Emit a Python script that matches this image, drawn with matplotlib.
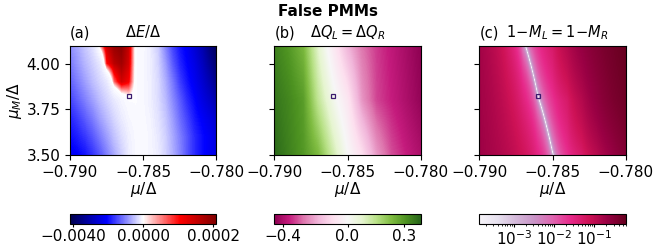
import numpy as np
import matplotlib
matplotlib.use("Agg")
import matplotlib.pyplot as plt
from matplotlib.colors import TwoSlopeNorm, LogNorm, Normalize, ListedColormap
from matplotlib.cm import ScalarMappable
from matplotlib.ticker import FuncFormatter

plt.rcParams['font.size'] = 11

# ---------------- data ----------------
# panel (a): Delta E / Delta, grid values in units of 1e-4
mu_a = [-0.7900, -0.7895, -0.7890, -0.7885, -0.7880, -0.7875, -0.7870, -0.7865,
        -0.7860, -0.7855, -0.7850, -0.7845, -0.7840, -0.7835, -0.7830, -0.7825,
        -0.7820, -0.7815, -0.7810, -0.7805, -0.7800]
muM_a = [3.5, 3.6, 3.7, 3.8, 3.9, 4.0, 4.1]
dE_1e4 = [
    [-22, -21, -19.5, -17, -14, -10.5, -7, -4, -1.5, -0.5, -0.4, -0.8, -1.5, -3.5, -6.5, -10, -14, -17.5, -20, -22, -24],
    [-20, -18.5, -16.5, -14, -11, -8, -5, -2.8, -1.2, -0.5, -0.4, -0.8, -1.8, -3.8, -7, -10.5, -14, -17.5, -20, -22, -25],
    [-18, -16, -13.5, -11, -8, -5.5, -3.3, -1.6, -0.7, -0.4, -0.5, -1, -2.3, -4.5, -8, -12, -15.5, -19, -21.5, -24, -27],
    [-15.5, -13, -10.5, -8, -5.5, -3.5, -1.8, -0.8, -0.3, -0.3, -0.6, -1.3, -2.8, -5.5, -9.5, -13.5, -17.5, -20.5, -24, -27, -31],
    [-13, -10.5, -8, -5.5, -3.5, -1.8, 0.6, 1.4, 1.1, -0.3, -0.6, -1.3, -3, -6.5, -11, -16, -19.5, -22.5, -26, -30, -35],
    [-11, -8.5, -6, -4, -2, 1.0, 1.6, 1.8, 1.4, -0.3, -0.6, -1.4, -3.5, -8, -13.5, -18, -21, -24, -28, -33, -38],
    [-9, -7, -4.5, -2.5, 0.3, 1.5, 1.9, 2.0, 1.5, -0.3, -0.5, -1.5, -4, -10, -15.5, -19.5, -22, -26, -30, -36, -40],
]
dE_range_1e4 = (-41.8, 2.09)

# panels (b), (c): coarse grid
mu_bc = [-0.790, -0.789, -0.788, -0.787, -0.786, -0.785, -0.784, -0.783, -0.782, -0.781, -0.780]
muM_bc = [3.5, 3.8, 4.1]
dQ = [
    [0.38, 0.34, 0.30, 0.24, 0.12, 0.005, -0.09, -0.22, -0.31, -0.36, -0.40],
    [0.36, 0.33, 0.29, 0.14, 0.03, -0.063, -0.226, -0.32, -0.36, -0.40, -0.44],
    [0.34, 0.30, 0.24, 0.08, -0.05, -0.18, -0.27, -0.33, -0.37, -0.41, -0.45],
]
dQ_range = (-0.4525, 0.389)
# signed difference whose magnitude is |(1-M_L)-(1-M_R)|
dM_signed = [
    [-0.19, -0.15, -0.11, -0.07, -0.03, -0.0015, 0.022, 0.05, 0.11, 0.20, 0.32],
    [-0.18, -0.13, -0.08, -0.035, -0.0025, 0.021, 0.05, 0.12, 0.23, 0.36, 0.48],
    [-0.17, -0.11, -0.05, -0.004, 0.022, 0.05, 0.12, 0.22, 0.33, 0.45, 0.58],
]
dM_range = (1.4e-4, 0.6)

marker_mu = [-0.786]
marker_muM = [3.825]

# ---------------- figure ----------------
fig = plt.figure(figsize=(6.55, 2.5), dpi=100)
lefts = [70 / 655, 274.3 / 655, 479.3 / 655]
w = 146.4 / 655
bottom, h = (250 - 155) / 250, 109.3 / 250
cb_bottom, cb_h = (250 - 224) / 250, 10 / 250


def extent_of(x, y):
    dx = x[1] - x[0]
    dy = y[1] - y[0]
    return [x[0] - dx / 2, x[-1] + dx / 2, y[0] - dy / 2, y[-1] + dy / 2]


def unicode_fmt(fmt):
    def f(v, pos):
        s = fmt % v
        if s.startswith('-') and float(s) == 0:
            s = s[1:]
        return s.replace('-', '\u2212')
    return FuncFormatter(f)


def linear_lut(cmap, norm, lo, hi, n):
    v = np.linspace(lo, hi, n)
    return ListedColormap(cmap(np.clip(norm(v), 0, 1)))


axes = [fig.add_axes([l, bottom, w, h]) for l in lefts]
caxes = [fig.add_axes([l, cb_bottom, w, cb_h]) for l in lefts]
img_kw = dict(origin='lower', aspect='auto', interpolation='bilinear', interpolation_stage='data')

# (a)
lo, hi = dE_range_1e4
cmap_a = linear_lut(plt.get_cmap('seismic'), TwoSlopeNorm(vmin=lo, vcenter=0.0, vmax=hi), lo, hi, 4097)
axes[0].imshow(np.array(dE_1e4), extent=extent_of(mu_a, muM_a), cmap=cmap_a,
               norm=Normalize(lo, hi), **img_kw)
sma = ScalarMappable(norm=TwoSlopeNorm(vmin=lo * 1e-4, vcenter=0.0, vmax=hi * 1e-4), cmap='seismic')
cba = fig.colorbar(sma, cax=caxes[0], orientation='horizontal', ticks=[-0.004, 0.0, 0.0002])
cba.ax.xaxis.set_major_formatter(unicode_fmt('%.4f'))
cba.ax.minorticks_off()

# (b)
lo, hi = dQ_range
cmap_b = linear_lut(plt.get_cmap('PiYG'), TwoSlopeNorm(vmin=lo, vcenter=0.0, vmax=hi), lo, hi, 4097)
axes[1].imshow(np.array(dQ), extent=extent_of(mu_bc, muM_bc), cmap=cmap_b,
               norm=Normalize(lo, hi), **img_kw)
smb = ScalarMappable(norm=TwoSlopeNorm(vmin=lo, vcenter=0.0, vmax=hi), cmap='PiYG')
cbb = fig.colorbar(smb, cax=caxes[1], orientation='horizontal', ticks=[-0.4, 0.0, 0.3])
cbb.ax.xaxis.set_major_formatter(unicode_fmt('%.1f'))
cbb.ax.minorticks_off()

# (c): colour shows |value| on a log scale
vmin_c, vmax_c = dM_range
lognorm_c = LogNorm(vmin=vmin_c, vmax=vmax_c)
purd = plt.get_cmap('PuRd')
vv = np.linspace(-vmax_c, vmax_c, 65537)
cmap_c = ListedColormap(purd(np.clip(lognorm_c(np.maximum(np.abs(vv), vmin_c)).filled(0), 0, 1)))
axes[2].imshow(np.array(dM_signed), extent=extent_of(mu_bc, muM_bc), cmap=cmap_c,
               norm=Normalize(-vmax_c, vmax_c), **img_kw)
smc = ScalarMappable(norm=LogNorm(vmin=vmin_c, vmax=vmax_c), cmap='PuRd')
cbc = fig.colorbar(smc, cax=caxes[2], orientation='horizontal')

for cb in (cba, cbb, cbc):
    cb.ax.tick_params(which='major', length=2.5, pad=1)
    cb.ax.tick_params(which='minor', length=1.5)

titles = [r'$\Delta E/\Delta$', r'$\Delta Q_L=\Delta Q_R$', r'$1\!-\!M_L=1\!-\!M_R$']
title_x = [0.5, 0.5, 0.535]
labels = ['(a)', '(b)', '(c)']
for i, ax in enumerate(axes):
    ax.set_xlim(-0.790, -0.780)
    ax.set_ylim(3.5, 4.1)
    ax.set_xticks([-0.790, -0.785, -0.780])
    ax.xaxis.set_major_formatter(unicode_fmt('%.3f'))
    ax.set_yticks([3.5, 3.75, 4.0])
    ax.yaxis.set_major_formatter(unicode_fmt('%.2f'))
    if i > 0:
        ax.set_yticklabels([])
    ax.set_xlabel(r'$\mu/\Delta$', labelpad=0)
    t = ax.set_title(titles[i], fontsize=10.5)
    t.set_x(title_x[i])
    ax.set_title(labels[i], loc='left', fontsize=10.5)
    ax.plot(marker_mu, marker_muM, marker='s', ms=3.3, mfc='none', mec='#3b1b6e', mew=0.9, ls='none')
axes[0].set_ylabel(r'$\mu_M/\Delta$', labelpad=2)

fig.suptitle('False PMMs', fontweight='bold', fontsize=11, y=0.985)
fig.savefig('out.png', dpi=100)
